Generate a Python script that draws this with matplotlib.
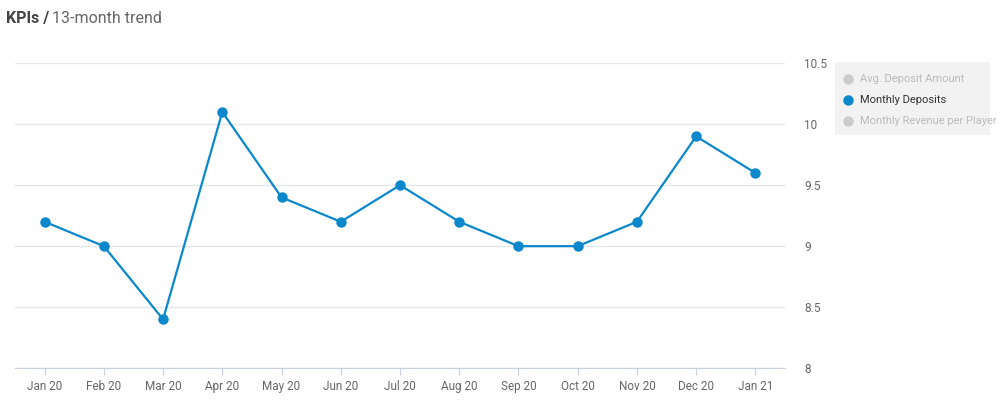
import matplotlib.pyplot as plt
from matplotlib.lines import Line2D
from matplotlib.patches import Rectangle

months = ["Jan 20", "Feb 20", "Mar 20", "Apr 20", "May 20", "Jun 20", "Jul 20",
          "Aug 20", "Sep 20", "Oct 20", "Nov 20", "Dec 20", "Jan 21"]
monthly_deposits = [9.2, 9.0, 8.4, 10.1, 9.4, 9.2, 9.5, 9.2, 9.0, 9.0, 9.2, 9.9, 9.6]
y_ticks = [8, 8.5, 9, 9.5, 10, 10.5]
y_labels = ["8", "8.5", "9", "9.5", "10", "10.5"]
legend_names = ["Avg. Deposit Amount", "Monthly Deposits", "Monthly Revenue per Player"]

plt.rcParams['font.family'] = ['Roboto', 'DejaVu Sans']
fig = plt.figure(figsize=(10, 4.05), dpi=100)
ax = fig.add_axes([0.015, 0.091, 0.77, 0.753])

blue = "#0b87cc"
x = list(range(len(months)))
ax.plot(x, monthly_deposits, color=blue, lw=1.6, marker="o", ms=6.5, zorder=3)

ax.set_xlim(-0.5, len(months) - 0.5)
ax.set_ylim(8, 10.5)
ax.set_xticks(x)
ax.set_xticklabels(months)
ax.set_yticks(y_ticks)
ax.set_yticklabels(y_labels)
ax.yaxis.tick_right()
ax.grid(axis="y", color="#e3e6ea", lw=1)
ax.set_axisbelow(True)
for s in ["top", "left", "right"]:
    ax.spines[s].set_visible(False)
ax.spines["bottom"].set_color("#c6d0dc")
ax.tick_params(axis="x", colors="#c6d0dc", labelcolor="#666666", labelsize=8.5, length=5)
ax.tick_params(axis="y", length=0, labelcolor="#666666", labelsize=8.5, pad=14)

fig.text(0.006, 0.955, "KPIs /", fontsize=11.5, fontweight="bold", color="#444444", va="center")
fig.text(0.052, 0.955, "13-month trend", fontsize=11.5, color="#666666", va="center")

# legend box
fig.patches.append(Rectangle((0.835, 1 - 135 / 405), 0.155, 73 / 405,
                             transform=fig.transFigure, facecolor="#f2f2f2",
                             edgecolor="none"))
for i, name in enumerate(legend_names):
    yy = 1 - (79 + 21 * i) / 405
    active = i == 1
    fig.add_artist(Line2D([0.848], [yy], marker="o", ms=6.5, ls="none",
                          color=blue if active else "#cccccc",
                          transform=fig.transFigure))
    fig.text(0.86, yy, name, fontsize=8, va="center",
             color="#333333" if active else "#bbbbbb")

fig.savefig("out.png", dpi=100)
